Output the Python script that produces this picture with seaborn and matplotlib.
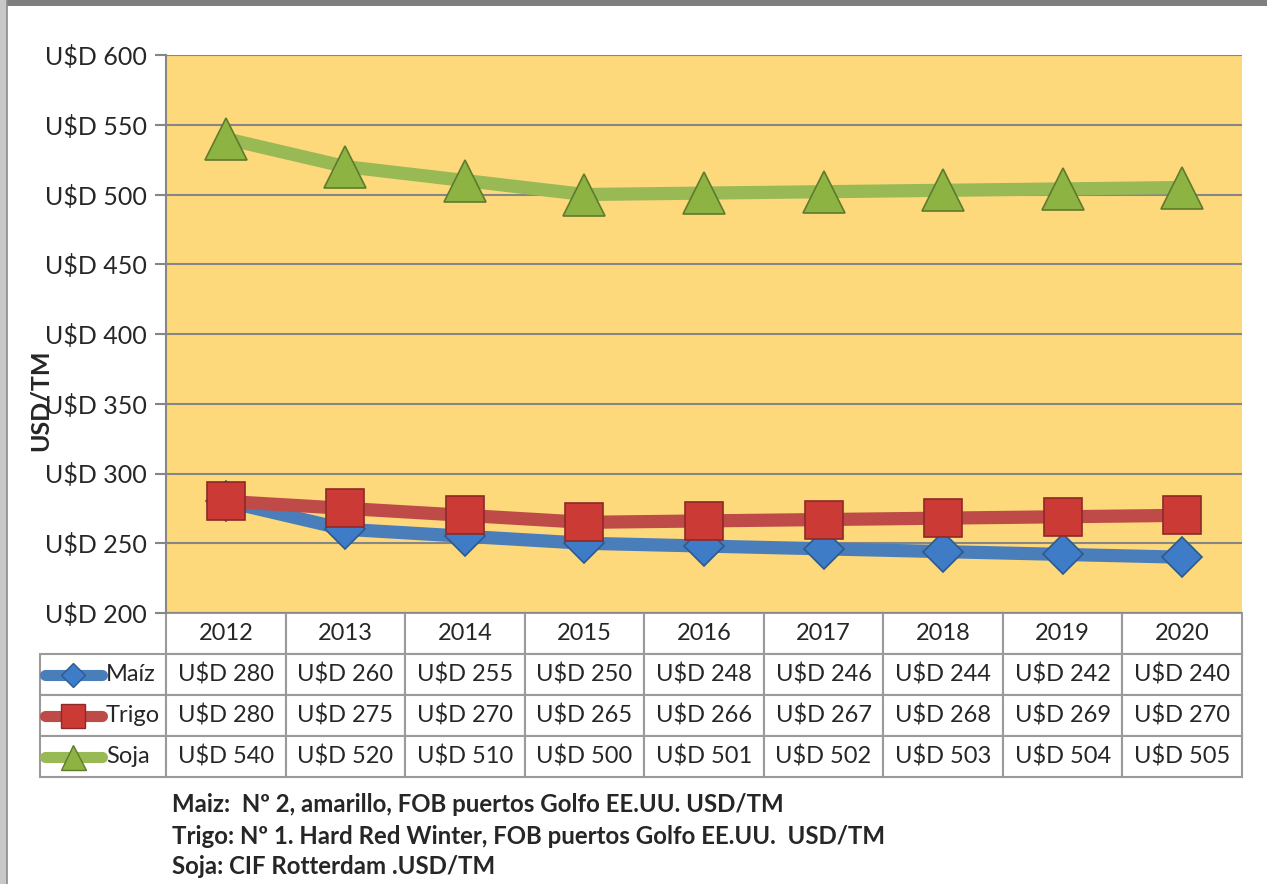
import pandas as pd
import seaborn as sns
import matplotlib.pyplot as plt
from matplotlib.lines import Line2D
from matplotlib.patches import Rectangle

years = ['2012', '2013', '2014', '2015', '2016', '2017', '2018', '2019', '2020']
maiz = [280, 260, 255, 250, 248, 246, 244, 242, 240]
trigo = [280, 275, 270, 265, 266, 267, 268, 269, 270]
soja = [540, 520, 510, 500, 501, 502, 503, 504, 505]
series_names = ['Maíz', 'Trigo', 'Soja']
yticks = [200, 250, 300, 350, 400, 450, 500, 550, 600]
notes = ['Maiz:  Nº 2, amarillo, FOB puertos Golfo EE.UU. USD/TM',
         'Trigo: Nº 1. Hard Red Winter, FOB puertos Golfo EE.UU.  USD/TM',
         'Soja: CIF Rotterdam .USD/TM']

line_cols = ['#4A7EBB', '#BE4B48', '#98B954']
face_cols = ['#3F7CC8', '#CC3A36', '#8DB443']
edge_cols = ['#2C5A8C', '#8C2A28', '#5E7A2C']
markers = ['D', 's', '^']
msizes = [20, 28, 30]

sns.set_style('white')
plt.rcParams['font.family'] = ['Lato', 'DejaVu Sans']

W, H = 1267, 884
fig = plt.figure(figsize=(W / 100, H / 100), dpi=100)
# plot area in pixels: x 166..1242, y 55..613
L, R, T, B = 166, 1242, 55, 613
ax = fig.add_axes([L / W, 1 - B / H, (R - L) / W, (B - T) / H])
ax.set_facecolor('#FED97B')

df = pd.DataFrame({'year': years * 3,
                   'value': maiz + trigo + soja,
                   'serie': [s for s in series_names for _ in years]})

for i, name in enumerate(series_names):
    sub = df[df['serie'] == name]
    sns.lineplot(data=sub, x='year', y='value', ax=ax, color=line_cols[i],
                 linewidth=9.5, marker=markers[i], markersize=msizes[i],
                 markerfacecolor=face_cols[i], markeredgecolor=edge_cols[i],
                 markeredgewidth=1.2, zorder=3 + i, solid_capstyle='round')

ax.set_xlim(-0.5, len(years) - 0.5)
ax.set_ylim(200, 600)
ax.set_yticks(yticks)
ax.set_yticklabels([f'U$D {v}' for v in yticks], fontsize=18)
ax.set_xticks([])
ax.set_xlabel('')
ax.set_ylabel('')
ax.grid(axis='y', color='#868686', linewidth=1.5)
ax.set_axisbelow(True)
ax.tick_params(axis='y', length=8, width=1.5, color='#868686', pad=6, left=True)
for s in ['top', 'right', 'bottom']:
    ax.spines[s].set_visible(False)
ax.spines['left'].set_color('#868686')
ax.spines['left'].set_linewidth(1.5)

ax.text((40 - L) / (R - L), (B - 400) / (B - T), 'USD/TM', rotation=90,
        transform=ax.transAxes, ha='center', va='center', fontsize=18,
        fontweight='bold')

# data table below the plot
table_rows = [[''] + years]
for name, vals in zip(series_names, [maiz, trigo, soja]):
    table_rows.append([''] + [f'U$D {v}' for v in vals])
row_h = 41
tab_left = 40
tbl = ax.table(cellText=table_rows, cellLoc='center',
               bbox=[(tab_left - L) / (R - L), -4 * row_h / (B - T),
                     (R - tab_left) / (R - L), 4 * row_h / (B - T)])
tbl.auto_set_font_size(False)
for (r, c), cell in tbl.get_celld().items():
    cell.set_edgecolor('#9A9A9A')
    cell.set_linewidth(1.5)
    cell.set_width(126 if c == 0 else (R - L) / 9)
    cell.get_text().set_fontsize(17)
    if r == 0 and c == 0:
        cell.visible_edges = ''

# row labels with legend keys
for i, name in enumerate(series_names):
    yc = (B - (613 + row_h * (i + 1.5))) / (B - T)
    x0, x1, xm = [(p - L) / (R - L) for p in (45, 102, 73)]
    ax.add_line(Line2D([x0, x1], [yc, yc], transform=ax.transAxes, color=line_cols[i],
                       linewidth=8, solid_capstyle='round', clip_on=False))
    ax.add_line(Line2D([xm], [yc], transform=ax.transAxes, marker=markers[i],
                       markersize=msizes[i] * 0.6, markerfacecolor=face_cols[i],
                       markeredgecolor=edge_cols[i], linestyle='none', clip_on=False))
    ax.text((106 - L) / (R - L), yc, name, transform=ax.transAxes, ha='left',
            va='center', fontsize=17)

for k, note in enumerate(notes):
    fig.text(172 / W, 1 - (805 + 31 * k) / H, note, ha='left', va='center',
             fontsize=17.3, fontweight='bold')

# window frame
fig.patches.append(Rectangle((0, 1 - 6 / H), 1, 6 / H, transform=fig.transFigure,
                             facecolor='#7F7F7F', edgecolor='none'))
fig.patches.append(Rectangle((0, 0), 7 / W, 1, transform=fig.transFigure,
                             facecolor='#C8C8C8', edgecolor='none'))
fig.lines.append(Line2D([7 / W, 7 / W], [0, 1], transform=fig.transFigure,
                        color='#8A8A8A', linewidth=1.2))

fig.savefig('out.png', dpi=100)
